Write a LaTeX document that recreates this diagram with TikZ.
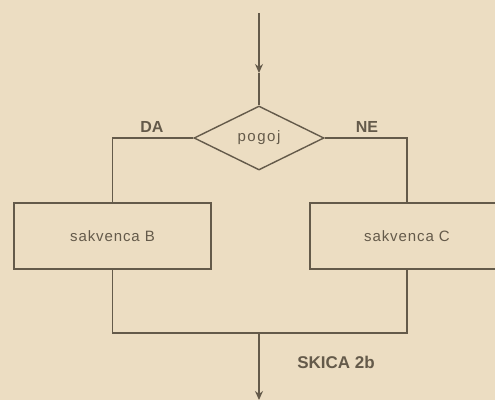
\documentclass[tikz,border=0pt]{standalone}
\usepackage{fontspec}
\setmainfont{Liberation Sans}
\usetikzlibrary{shapes.geometric,arrows.meta}
\definecolor{paper}{RGB}{236,221,194}
\definecolor{ink}{RGB}{100,90,74}
\tikzset{
  flow/.style={draw=ink,line width=1.4pt},
  stepbox/.style={draw=ink,line width=1.4pt,rectangle,minimum width=197pt,minimum height=66pt,inner sep=0pt,text=ink,font=\fontsize{15}{17}\selectfont\addfontfeatures{LetterSpace=6}},
  cond/.style={draw=ink,line width=1.4pt,diamond,aspect=2,minimum width=130pt,minimum height=64pt,inner sep=0pt,text=ink,font=\fontsize{15}{17}\selectfont\addfontfeatures{LetterSpace=10}},
  lbl/.style={inner sep=0.75pt,text=ink,font=\fontsize{16}{18}\selectfont\bfseries},
  tip/.style={-{Stealth[length=9pt,width=8pt]}}
}
\begin{document}
\begin{tikzpicture}[x=1pt,y=-1pt]
        % background and page size
        \fill[paper] (0,0) rectangle (495,400);
        \useasboundingbox (0,0) rectangle (495,400);

        % Decision
        \node[cond] (pogoj) at (259,138) {pogoj};
        % Sequences
        \node[stepbox] (seqB) at (112.5,236) {sakvenca B};
        \node[stepbox,minimum width=194pt] (seqC) at (407,236) {sakvenca C};

        % Free ends
        \coordinate (entry) at (259,13);
        \coordinate (entrytip) at (259,73);
        \coordinate (join) at (259,333);
        \coordinate (exit) at (259,400);

        % Connectors
        \draw[flow,tip] (entry) -- (entrytip);
        \draw[flow] (entrytip) -- (pogoj.north);
        \draw[flow] (pogoj.west) -| (seqB.north);
        \draw[flow] (pogoj.east) -| (seqC.north);
        \draw[flow] (seqB.south) |- (join) -| (seqC.south);
        \draw[flow,tip] (join) -- (exit);

        % Text Node
        \node[lbl] (da) at (152,127) {DA};
        % Text Node
        \node[lbl] (ne) at (367,127) {NE};
        % Text Node
        \node[lbl,font=\fontsize{17}{19}\selectfont\bfseries] (skica) at (336,362) {SKICA 2b};
\end{tikzpicture}
\end{document}
